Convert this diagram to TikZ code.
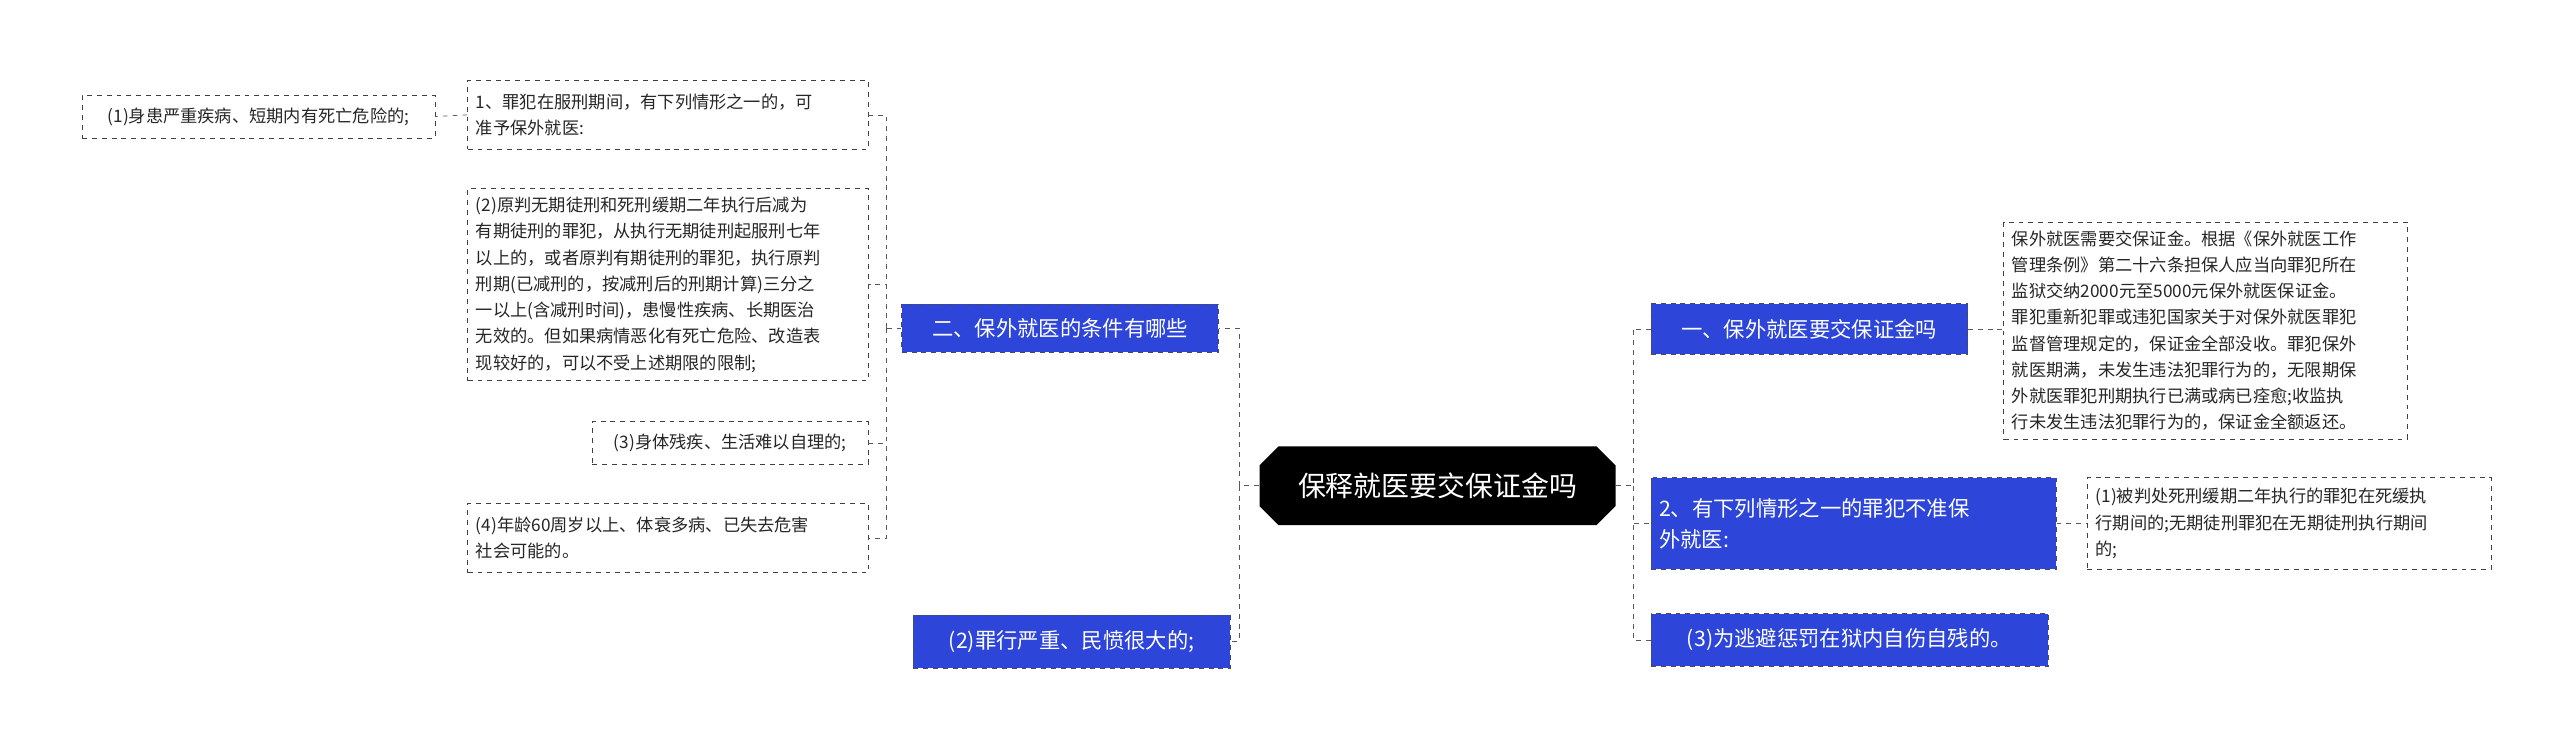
\documentclass[tikz,border=0pt]{standalone}
\usepackage{fontspec}
\setmainfont{Noto Sans CJK SC}
\usetikzlibrary{shapes.misc}
\definecolor{bluebox}{HTML}{2D45D8}
\begin{document}
\begin{tikzpicture}[x=1pt,y=1pt,
  leaf/.style={draw=black!75,dashed,fill=white,font=\fontsize{10.5}{16}\selectfont,align=left,inner sep=5pt,text=black!85},
  branch/.style={draw=black!70,dashed,fill=bluebox,text=white,font=\fontsize{13}{19}\selectfont,align=left,inner sep=5pt},
  conn/.style={draw=black!65,dashed,thin}]
\useasboundingbox (0,0) rectangle (1560,-457);
\node[chamfered rectangle,chamfered rectangle xsep=8pt,fill=black,text=white,font=\fontsize{17}{20}\selectfont,minimum width=217,minimum height=48,inner sep=2pt] (ctr) at (876,-296) {保释就医要交保证金吗};
\node[branch,minimum width=193,minimum height=29] (b1) at (646,-200) {二、保外就医的条件有哪些};
\node[branch,minimum width=193,minimum height=32] (b2) at (653,-391) {(2)罪行严重、民愤很大的;};
\node[leaf,minimum width=244,minimum height=42,text width=234] (n1) at (407,-70) {1、罪犯在服刑期间，有下列情形之一的，可\\准予保外就医:};
\node[leaf,minimum width=215,minimum height=26] (n1a) at (157.5,-71) {(1)身患严重疾病、短期内有死亡危险的;};
\node[leaf,minimum width=244,minimum height=117,text width=234] (n2) at (407,-173.5) {(2)原判无期徒刑和死刑缓期二年执行后减为\\有期徒刑的罪犯，从执行无期徒刑起服刑七年\\以上的，或者原判有期徒刑的罪犯，执行原判\\刑期(已减刑的，按减刑后的刑期计算)三分之\\一以上(含减刑时间)，患慢性疾病、长期医治\\无效的。但如果病情恶化有死亡危险、改造表\\现较好的，可以不受上述期限的限制;};
\node[leaf,minimum width=168,minimum height=26] (n3) at (445,-270) {(3)身体残疾、生活难以自理的;};
\node[leaf,minimum width=244,minimum height=42,text width=234] (n4) at (407,-328) {(4)年龄60周岁以上、体衰多病、已失去危害\\社会可能的。};
\node[branch,minimum width=193,minimum height=31] (r1) at (1102.5,-200.5) {一、保外就医要交保证金吗};
\node[branch,minimum width=247,minimum height=56,text width=237] (r2) at (1129.5,-319) {2、有下列情形之一的罪犯不准保\\外就医:};
\node[branch,minimum width=242,minimum height=32] (r3) at (1127,-390) {(3)为逃避惩罚在狱内自伤自残的。};
\node[leaf,minimum width=246,minimum height=129,text width=236] (rc1) at (1344,-201.5) {保外就医需要交保证金。根据《保外就医工作\\管理条例》第二十六条担保人应当向罪犯所在\\监狱交纳2000元至5000元保外就医保证金。\\罪犯重新犯罪或违犯国家关于对保外就医罪犯\\监督管理规定的，保证金全部没收。罪犯保外\\就医期满，未发生违法犯罪行为的，无限期保\\外就医罪犯刑期执行已满或病已痊愈;收监执\\行未发生违法犯罪行为的，保证金全额返还。};
\node[leaf,minimum width=246,minimum height=56,text width=236] (rc2) at (1395,-319) {(1)被判处死刑缓期二年执行的罪犯在死缓执\\行期间的;无期徒刑罪犯在无期徒刑执行期间\\的;};
\coordinate (cl) at (755,-296);
\coordinate (cr) at (995,-296);
\coordinate (ll) at (540,-200);
\draw[conn] (ctr.west) -- (cl) |- (b1.east);
\draw[conn] (cl) |- (b2.east);
\draw[conn] (b1.west) -- (ll);
\foreach \n in {n1,n2,n3,n4} \draw[conn] (ll) |- (\n.east);
\draw[conn] (n1.west) -- (n1a.east);
\draw[conn] (ctr.east) -- (cr) |- (r1.west);
\draw[conn] (cr) |- (r2.west);
\draw[conn] (cr) |- (r3.west);
\draw[conn] (r1.east) -- (rc1.west|-r1.east);
\draw[conn] (r2.east) -- (rc2.west);
\end{tikzpicture}
\end{document}
